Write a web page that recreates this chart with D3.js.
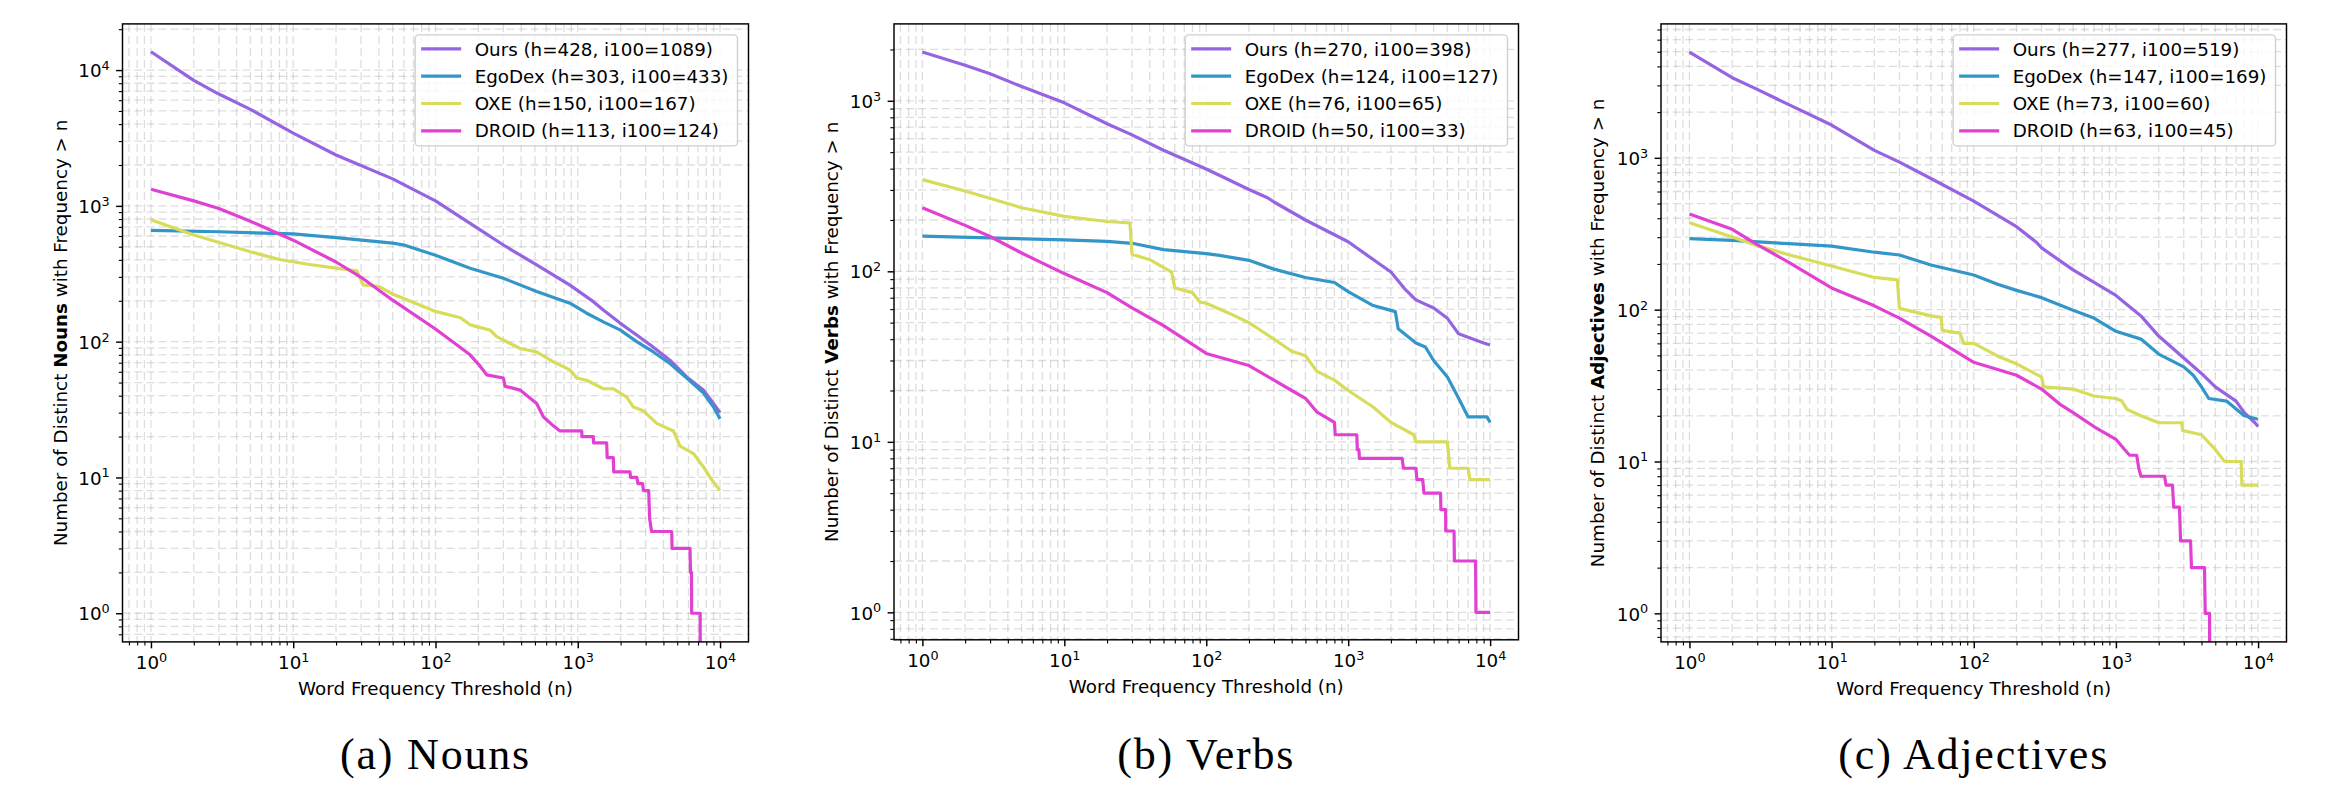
<!DOCTYPE html>
<html>
<head>
<meta charset="utf-8">
<script src="https://cdn.jsdelivr.net/npm/d3@7"></script>
<style>
	body { margin: 0; background: #fff; }
	text { font-family: "DejaVu Sans", sans-serif; }
</style>
</head>
<body>
<svg id="chart" width="2325" height="799"></svg>
<script>
// ---- data ----
const seriesNames = ["Ours", "EgoDex", "OXE", "DROID"];
const panelWords = ["Nouns", "Verbs", "Adjectives"];
const panelCaptions = ["(a) Nouns", "(b) Verbs", "(c) Adjectives"];
const hIndex = [[428, 303, 150, 113], [270, 124, 76, 50], [277, 147, 73, 63]];
const i100 = [[1089, 433, 167, 124], [398, 127, 65, 33], [519, 169, 60, 45]];
const xTickLabels = ["0", "1", "2", "3", "4"];
const yTickLabels = [["0", "1", "2", "3", "4"], ["0", "1", "2", "3"], ["0", "1", "2", "3"]];

// [n, number of distinct words with frequency > n]
const nounsOurs = [[1, 13650], [2, 8400], [3, 6660], [5, 5140], [10, 3430], [20, 2370], [50, 1580], [100, 1089],
	[206, 665], [300, 515], [514, 367], [881, 261], [1287, 197], [1512, 171], [1982, 137], [2594, 112], [3222, 95],
	[4446, 73], [5830, 55], [7627, 44], [9000, 35], [10000, 30]];
const nounsEgoDex = [[1, 659], [3, 645], [10, 621], [20, 584], [50, 531], [60, 515], [100, 433], [175, 347],
	[300, 293], [514, 234], [881, 192], [1155, 162], [1512, 140], [1982, 122], [2594, 100], [3400, 84], [4446, 69],
	[5830, 54], [7627, 42], [9000, 33], [10000, 27]];
const nounsOXE = [[1, 791], [2, 610], [5, 459], [8, 403], [13, 370], [20, 348], [28, 333], [31, 262], [40, 255],
	[50, 224], [100, 167], [150, 150], [175, 133], [241, 122], [269, 109], [393, 89], [514, 84], [673, 71], [881, 62],
	[982, 54], [1155, 52], [1512, 45], [1778, 45], [2208, 39], [2460, 33], [2890, 31], [3590, 25], [4700, 22],
	[5236, 17], [6500, 15], [7627, 12], [8510, 10], [10000, 8]];
const nounsDROID = [[1, 1327], [2, 1088], [3, 955], [5, 771], [10, 559], [20, 386], [30, 298], [50, 202], [100, 124],
	[175, 80], [206, 66], [229, 57], [300, 54], [308, 47], [393, 44], [514, 35], [573, 28], [673, 24], [750, 22],
	[1066, 22], [1070, 20], [1287, 20], [1290, 18], [1596, 18], [1610, 14], [1778, 14], [1790, 11], [2328, 11],
	[2350, 10], [2600, 10], [2650, 9], [2850, 9], [2900, 8], [3150, 8], [3200, 5], [3300, 4], [4575, 4], [4600, 3],
	[6150, 3], [6200, 2], [6300, 2], [6320, 1], [7250, 1], [7260, 0]];

const verbsOurs = [[1, 1935], [2, 1618], [3, 1439], [5, 1212], [10, 973], [20, 734], [30, 631], [50, 513],
	[100, 398], [200, 302], [270, 270], [300, 255], [500, 200], [1000, 149], [2000, 99], [2500, 79], [3000, 68],
	[4000, 61], [5000, 53], [6000, 43], [7000, 41], [9000, 38], [10000, 37]];
const verbsEgoDex = [[1, 161], [10, 153], [20, 150], [30, 146], [50, 134], [100, 127], [124, 124], [200, 116],
	[300, 103], [500, 92], [800, 86], [1000, 76], [1500, 63], [2000, 59], [2150, 58], [2250, 46], [3000, 38],
	[3500, 36], [4000, 30], [5000, 24], [6000, 18], [7000, 14], [9500, 14], [10000, 13]];
const verbsOXE = [[1, 345], [2, 296], [5, 236], [10, 210], [20, 196], [29, 192], [30, 126], [40, 117], [57, 99],
	[60, 80], [80, 75], [90, 66], [100, 65], [150, 56], [200, 50], [300, 40], [400, 34], [500, 32], [600, 26],
	[800, 23], [1000, 20], [1500, 16], [2000, 13], [2900, 11], [3000, 10], [5000, 10], [5200, 7], [7000, 7],
	[7200, 6], [10000, 6]];
const verbsDROID = [[1, 236], [2, 186], [3, 160], [5, 128], [10, 97], [20, 75], [30, 61], [50, 48], [100, 33],
	[200, 28], [300, 23], [400, 20], [500, 18], [600, 15], [800, 13], [810, 11], [1150, 11], [1160, 9], [1190, 9],
	[1200, 8], [2400, 8], [2450, 7], [3000, 7], [3050, 6], [3350, 6], [3420, 5], [4475, 5], [4500, 4], [4855, 4],
	[4870, 3], [5570, 3], [5600, 2], [7900, 2], [7950, 1], [10000, 1]];

const adjOurs = [[1, 4960], [2, 3370], [3, 2825], [5, 2240], [10, 1645], [20, 1119], [30, 937], [50, 731],
	[100, 519], [200, 352], [277, 277], [300, 255], [500, 183], [1000, 124], [1500, 91], [2000, 67], [3000, 48],
	[4000, 38], [5000, 31], [7000, 25], [8000, 21], [9500, 18], [10000, 17]];
const adjEgoDex = [[1, 294], [2, 286], [5, 272], [10, 262], [20, 239], [30, 229], [50, 197], [100, 169], [147, 147],
	[200, 134], [300, 120], [500, 99], [700, 88], [1000, 72], [1500, 64], [2000, 51], [3000, 42], [3500, 37],
	[4000, 31], [4500, 26], [6000, 25], [8000, 20], [10000, 19]];
const adjOXE = [[1, 374], [2, 301], [3, 264], [5, 230], [10, 194], [20, 163], [29, 157], [30, 102], [50, 91],
	[59, 89], [60, 73], [80, 70], [85, 60], [100, 60], [150, 49], [200, 44], [300, 36], [310, 31], [500, 30],
	[700, 27], [1000, 26], [1100, 25], [1200, 22], [1500, 20], [2000, 18], [2900, 18], [2950, 16], [4000, 15],
	[5000, 12], [5800, 10], [7600, 10], [7700, 7], [10000, 7]];
const adjDROID = [[1, 426], [2, 338], [3, 268], [5, 205], [10, 139], [20, 106], [30, 88], [50, 67], [100, 45],
	[200, 37], [300, 30], [400, 24], [500, 21], [700, 17], [1000, 14], [1150, 12], [1250, 11], [1400, 11], [1450, 9],
	[1500, 8], [2200, 8], [2250, 7], [2500, 7], [2550, 5], [2800, 5], [2850, 3], [3350, 3], [3400, 2], [4200, 2],
	[4250, 1], [4560, 1], [4570, 0]];

const panelSeries = [
	[nounsOurs, nounsEgoDex, nounsOXE, nounsDROID],
	[verbsOurs, verbsEgoDex, verbsOXE, verbsDROID],
	[adjOurs, adjEgoDex, adjOXE, adjDROID]
];

// ---- layout and style ----
const colors = ["#9664e1", "#3296c8", "#d7dc5a", "#e141d2"];
const layout = [
	{left: 122.5, right: 748.5, top: 23.9, bottom: 641.9, yLo: -0.211, yHi: 4.340, ylabX: 66.5},
	{left: 894, right: 1518.5, top: 23.9, bottom: 639.8, yLo: -0.161, yHi: 3.451, ylabX: 837.5},
	{left: 1661, right: 2286.5, top: 23.9, bottom: 641.9, yLo: -0.188, yHi: 3.882, ylabX: 1604}
];
const fontSize = 18.3;
const supSize = 12.8;

const svg = d3.select("#chart");
svg.append("rect").attr("width", 2325).attr("height", 799).attr("fill", "#fff");

layout.forEach((p, pi) => {
	const x = d3.scaleLog()
		.domain([Math.pow(10, -0.2), Math.pow(10, 4.2)])
		.range([p.left, p.right]);
	const y = d3.scaleLog()
		.domain([Math.pow(10, p.yLo), Math.pow(10, p.yHi)])
		.range([p.bottom, p.top]);

	const isMajor = v => Math.abs(Math.log10(v) - Math.round(Math.log10(v))) < 1e-9;
	const xAll = x.ticks();
	const yAll = y.ticks();
	const xMajor = xAll.filter(isMajor);
	const yMajor = yAll.filter(isMajor);
	const xMinor = xAll.filter(v => !isMajor(v));
	const yMinor = yAll.filter(v => !isMajor(v));

	const g = svg.append("g");

	/* eslint-disable indent */
	// grid (major + minor, dashed)
	const grid = g.append("g")
			.attr("stroke", "#b0b0b0")
			.attr("stroke-opacity", 0.42)
			.attr("stroke-width", 1.3)
			.attr("stroke-dasharray", "8,4");
	grid.selectAll("line.gx")
		.data(xAll)
		.join("line")
			.attr("x1", d => x(d)).attr("x2", d => x(d))
			.attr("y1", p.top).attr("y2", p.bottom);
	grid.selectAll("line.gy")
		.data(yAll, d => d)
		.join(enter => enter.append("line"))
			.attr("x1", p.left).attr("x2", p.right)
			.attr("y1", d => y(d)).attr("y2", d => y(d));

	// clip
	const clipId = "clip" + pi;
	svg.append("clipPath").attr("id", clipId)
		.append("rect")
			.attr("x", p.left).attr("y", p.top)
			.attr("width", p.right - p.left).attr("height", p.bottom - p.top);

	// curves
	const line = d3.line()
		.x(d => x(d[0]))
		.y(d => d[1] > 0 ? y(d[1]) : p.bottom + 40);
	g.append("g")
			.attr("clip-path", `url(#${clipId})`)
		.selectAll("path")
		.data(panelSeries[pi])
		.join("path")
			.attr("d", line)
			.attr("fill", "none")
			.attr("stroke", (d, i) => colors[i])
			.attr("stroke-width", 3.2)
			.attr("stroke-linejoin", "round");

	// frame
	g.append("rect")
		.attr("x", p.left).attr("y", p.top)
		.attr("width", p.right - p.left).attr("height", p.bottom - p.top)
		.attr("fill", "none")
		.attr("stroke", "#000")
		.attr("stroke-width", 1.46);

	// x axis ticks
	const gxMinor = g.append("g")
			.attr("transform", `translate(0,${p.bottom})`)
			.call(d3.axisBottom(x).tickValues(xMinor).tickSize(3.7).tickFormat(""));
	const gxMajor = g.append("g")
			.attr("transform", `translate(0,${p.bottom})`)
			.call(d3.axisBottom(x).tickValues(xMajor).tickSize(6.4).tickFormat(""));
	const gyMinor = g.append("g")
			.attr("transform", `translate(${p.left},0)`)
			.call(d3.axisLeft(y).tickValues(yMinor).tickSize(3.7).tickFormat(""));
	const gyMajor = g.append("g")
			.attr("transform", `translate(${p.left},0)`)
			.call(d3.axisLeft(y).tickValues(yMajor).tickSize(6.4).tickFormat(""));
	[gxMinor, gxMajor, gyMinor, gyMajor].forEach(a => {
		a.select(".domain").remove();
		a.attr("font-family", null).attr("font-size", fontSize);
	});
	[gxMinor, gyMinor].forEach(a => a.selectAll(".tick line").attr("stroke", "#000").attr("stroke-width", 1.1));
	[gxMajor, gyMajor].forEach(a => a.selectAll(".tick line").attr("stroke", "#000").attr("stroke-width", 1.46));

	gxMajor.selectAll(".tick text")
			.attr("y", 27.4).attr("dy", null)
			.attr("fill", "#000")
		.each(function(d, i) {
			const t = d3.select(this);
			t.text("10");
			t.append("tspan").attr("dy", -7.3).attr("font-size", supSize).text(xTickLabels[i]);
		});
	gyMajor.selectAll(".tick text")
			.attr("x", -12.8).attr("y", 6.65).attr("dy", null)
			.attr("fill", "#000")
		.each(function(d, i) {
			const t = d3.select(this);
			t.text("10");
			t.append("tspan").attr("dy", -7.3).attr("font-size", supSize).text(yTickLabels[pi][i]);
		});

	// axis labels
	g.append("text")
		.attr("x", (p.left + p.right) / 2)
		.attr("y", p.bottom + 53)
		.attr("text-anchor", "middle")
		.attr("font-size", fontSize)
		.text("Word Frequency Threshold (n)");
	const yl = g.append("text")
		.attr("transform", `translate(${p.ylabX},${(p.top + p.bottom) / 2}) rotate(-90)`)
		.attr("text-anchor", "middle")
		.attr("font-size", fontSize)
		.text("Number of Distinct ");
	yl.append("tspan").attr("font-weight", "bold").text(panelWords[pi]);
	yl.append("tspan").text(" with Frequency > n");

	// legend
	const legend = g.append("g");
	const box = legend.append("rect")
		.attr("fill", "#fff")
		.attr("fill-opacity", 0.8)
		.attr("stroke", "#d0d0d0")
		.attr("stroke-width", 1.4)
		.attr("rx", 3.7);
	const rows = legend.selectAll("g")
		.data(seriesNames)
		.join("g")
			.attr("transform", (d, i) => `translate(0,${p.top + 25 + i * 27.3})`);
	rows.append("line")
		.attr("x1", 6).attr("x2", 46)
		.attr("stroke", (d, i) => colors[i])
		.attr("stroke-width", 3.2);
	const labels = rows.append("text")
		.attr("x", 59.5)
		.attr("y", 6.65)
		.attr("font-size", fontSize)
		.text((d, i) => `${d} (h=${hIndex[pi][i]}, i100=${i100[pi][i]})`);
	let maxW = 0;
	labels.each(function() { maxW = Math.max(maxW, this.getComputedTextLength()); });
	const boxW = 59.5 + maxW + 9;
	const boxLeft = p.right - 11 - boxW;
	rows.attr("transform", (d, i) => `translate(${boxLeft},${p.top + 25 + i * 27.3})`);
	box.attr("x", boxLeft).attr("y", p.top + 11)
		.attr("width", boxW).attr("height", 111);
	/* eslint-enable */

	// caption
	svg.append("text")
		.attr("x", (p.left + p.right) / 2)
		.attr("y", 769)
		.attr("text-anchor", "middle")
		.attr("font-family", "'Liberation Serif', serif")
		.attr("font-size", 44)
		.attr("letter-spacing", 1.8)
		.style("font-family", "'Liberation Serif', serif")
		.text(panelCaptions[pi]);
});
</script>
</body>
</html>
